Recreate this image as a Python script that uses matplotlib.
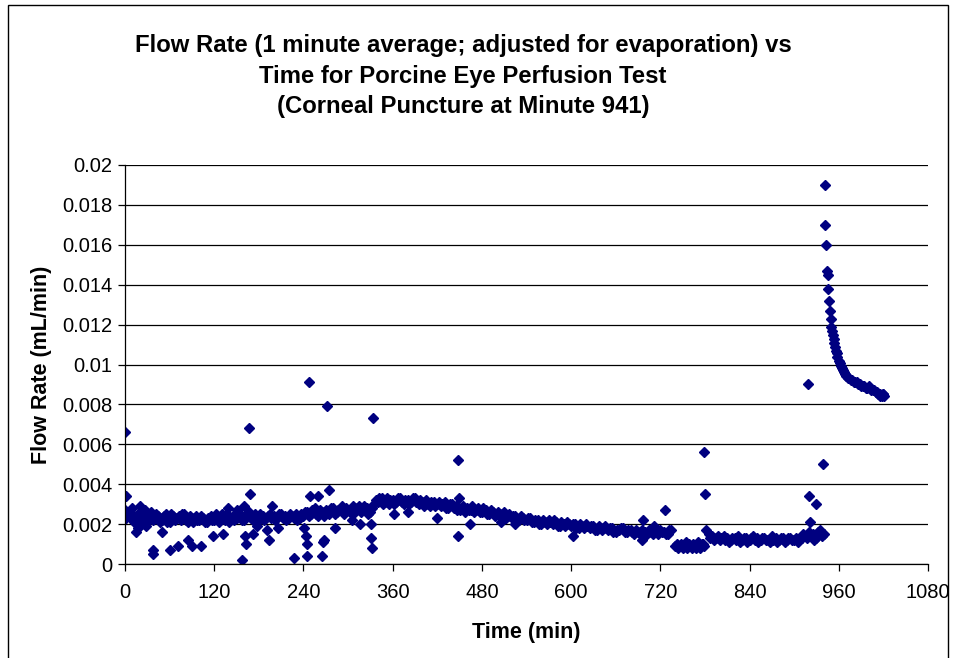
import matplotlib
matplotlib.use("Agg")
import matplotlib.pyplot as plt
from matplotlib.patches import Rectangle

# main band (min, mL/min)
t_band = [0, 5, 10, 15, 20, 25, 30, 35, 40, 45,
          50, 55, 60, 65, 70, 75, 80, 85, 90, 95,
          100, 105, 110, 115, 120, 125, 130, 135, 140, 145,
          150, 155, 160, 165, 170, 175, 180, 185, 190, 195,
          200, 205, 210, 215, 220, 225, 230, 235, 240, 245,
          250, 255, 260, 265, 270, 275, 280, 285, 290, 295,
          300, 305, 310, 315, 320, 325, 330, 335, 340, 345,
          350, 355, 360, 365, 370, 375, 380, 385, 390, 395,
          400, 405, 410, 415, 420, 425, 430, 435, 440, 445,
          450, 455, 460, 465, 470, 475, 480, 485, 490, 495,
          500, 505, 510, 515, 520, 525, 530, 535, 540, 545,
          550, 555, 560, 565, 570, 575, 580, 585, 590, 595,
          600, 605, 610, 615, 620, 625, 630, 635, 640, 645,
          650, 655, 660, 665, 670, 675, 680, 685, 690, 695,
          700, 705, 710, 715, 720, 725, 730, 735]
q_band = [0.0027, 0.0024, 0.0028, 0.0022, 0.0029, 0.0025, 0.0021, 0.0026, 0.0023, 0.0024,
          0.0022, 0.0025, 0.0021, 0.0024, 0.0023, 0.0022, 0.0025, 0.0021, 0.0023, 0.0024,
          0.0022, 0.0023, 0.0021, 0.0024, 0.0022, 0.0023, 0.0025, 0.0022, 0.0021, 0.0024,
          0.0023, 0.0025, 0.0022, 0.0024, 0.0023, 0.0025, 0.0022, 0.0024, 0.0023, 0.0025,
          0.0024, 0.0023, 0.0025, 0.0024, 0.0023, 0.0024, 0.0025, 0.0023, 0.0024, 0.0026,
          0.0025, 0.0028, 0.0024, 0.0026, 0.0027, 0.0025, 0.0028, 0.0026, 0.0027, 0.0025,
          0.0027, 0.0028, 0.0026, 0.0029, 0.0027, 0.0028, 0.0026, 0.0030, 0.0031, 0.0033,
          0.0031, 0.0030, 0.0032, 0.0031, 0.0033, 0.0030, 0.0032, 0.0031, 0.0033, 0.0030,
          0.0031, 0.0032, 0.0029, 0.0031, 0.0030, 0.0029, 0.0031, 0.0028, 0.0030, 0.0029,
          0.0027, 0.0029, 0.0028, 0.0027, 0.0026, 0.0028, 0.0026, 0.0027, 0.0025, 0.0026,
          0.0025, 0.0024, 0.0026, 0.0024, 0.0023, 0.0024, 0.0022, 0.0023, 0.0022, 0.0023,
          0.0021, 0.0022, 0.0020, 0.0021, 0.0022, 0.0020, 0.0021, 0.0019, 0.0020, 0.0021,
          0.0019, 0.0020, 0.0018, 0.0019, 0.0020, 0.0018, 0.0019, 0.0017, 0.0018, 0.0019,
          0.0017, 0.0018, 0.0016, 0.0017, 0.0018, 0.0016, 0.0017, 0.0015, 0.0016, 0.0017,
          0.0016, 0.0017, 0.0015, 0.0016, 0.0017, 0.0016, 0.0015, 0.0017]

# in-between minutes of the same band
t_band2 = [2, 7, 12, 17, 22, 27, 32, 37, 42, 47,
           52, 57, 62, 67, 72, 77, 82, 87, 92, 97,
           102, 107, 112, 117, 122, 127, 132, 137, 142, 147,
           152, 157, 162, 167, 172, 177, 182, 187, 192, 197,
           202, 207, 212, 217, 222, 227, 232, 237, 242, 247,
           252, 257, 262, 267, 272, 277, 282, 287, 292, 297,
           302, 307, 312, 317, 322, 327, 332, 337, 342, 347,
           352, 357, 362, 367, 372, 377, 382, 387, 392, 397,
           402, 407, 412, 417, 422, 427, 432, 437, 442, 447,
           452, 457, 462, 467, 472, 477, 482, 487, 492, 497,
           502, 507, 512, 517, 522, 527, 532, 537, 542, 547,
           552, 557, 562, 567, 572, 577, 582, 587, 592, 597,
           602, 607, 612, 617, 622, 627, 632, 637, 642, 647,
           652, 657, 662, 667, 672, 677, 682, 687, 692, 697,
           702, 707, 712, 717, 722, 727, 732]
q_band2 = [0.0023, 0.0026, 0.0021, 0.0025, 0.0022, 0.0027, 0.0024, 0.0022, 0.0025, 0.0021,
           0.0024, 0.0021, 0.0025, 0.0022, 0.0024, 0.0025, 0.0022, 0.0024, 0.0021, 0.0022,
           0.0024, 0.0021, 0.0023, 0.0022, 0.0025, 0.0021, 0.0023, 0.0025, 0.0023, 0.0022,
           0.0025, 0.0022, 0.0024, 0.0026, 0.0022, 0.0023, 0.0025, 0.0022, 0.0024, 0.0023,
           0.0022, 0.0025, 0.0023, 0.0022, 0.0025, 0.0023, 0.0022, 0.0025, 0.0026, 0.0024,
           0.0027, 0.0025, 0.0027, 0.0024, 0.0026, 0.0028, 0.0025, 0.0027, 0.0029, 0.0028,
           0.0026, 0.0029, 0.0028, 0.0026, 0.0029, 0.0025, 0.0028, 0.0032, 0.0033, 0.0030,
           0.0033, 0.0032, 0.0030, 0.0033, 0.0031, 0.0032, 0.0030, 0.0033, 0.0031, 0.0032,
           0.0029, 0.0030, 0.0031, 0.0029, 0.0031, 0.0030, 0.0028, 0.0030, 0.0028, 0.0027,
           0.0028, 0.0026, 0.0027, 0.0029, 0.0027, 0.0026, 0.0028, 0.0025, 0.0027, 0.0024,
           0.0026, 0.0025, 0.0023, 0.0025, 0.0024, 0.0022, 0.0024, 0.0022, 0.0023, 0.0021,
           0.0022, 0.0020, 0.0022, 0.0020, 0.0021, 0.0022, 0.0019, 0.0021, 0.0019, 0.0020,
           0.0020, 0.0018, 0.0020, 0.0018, 0.0019, 0.0019, 0.0017, 0.0019, 0.0017, 0.0018,
           0.0018, 0.0016, 0.0017, 0.0018, 0.0016, 0.0017, 0.0016, 0.0017, 0.0015, 0.0016,
           0.0015, 0.0016, 0.0017, 0.0015, 0.0016, 0.0015, 0.0017]

# low step before the jump at ~780 min
t_step = [740, 742, 744, 746, 748, 750, 752, 754, 756, 758, 760,
          762, 764, 766, 768, 770, 772, 774, 776, 778, 779]
q_step = [0.0009, 0.0010, 0.0008, 0.0009, 0.0010, 0.0008, 0.0009, 0.0011, 0.0008, 0.0010, 0.0009,
          0.0008, 0.0010, 0.0009, 0.0008, 0.0011, 0.0009, 0.0008, 0.0010, 0.0010, 0.0009]

# band after the jump, up to the puncture
t_late = [785, 787, 790, 792, 795, 797, 800, 802, 805, 807,
          810, 812, 815, 817, 820, 822, 825, 827, 830, 832,
          835, 837, 840, 842, 845, 847, 850, 852, 855, 857,
          860, 862, 865, 867, 870, 872, 875, 877, 880, 882,
          885, 887, 890, 892, 895, 897, 900, 902, 905, 907,
          910, 912, 915, 917, 920, 922, 925, 927, 930, 932,
          935, 937, 940]
q_late = [0.0015, 0.0013, 0.0014, 0.0012, 0.0013, 0.0014, 0.0012, 0.0013, 0.0014, 0.0012,
          0.0013, 0.0011, 0.0012, 0.0013, 0.0013, 0.0012, 0.0014, 0.0011, 0.0012, 0.0013,
          0.0013, 0.0011, 0.0012, 0.0013, 0.0014, 0.0012, 0.0013, 0.0011, 0.0012, 0.0013,
          0.0013, 0.0012, 0.0012, 0.0011, 0.0014, 0.0012, 0.0013, 0.0011, 0.0012, 0.0013,
          0.0013, 0.0011, 0.0012, 0.0013, 0.0013, 0.0012, 0.0012, 0.0013, 0.0011, 0.0012,
          0.0013, 0.0015, 0.0014, 0.0013, 0.0016, 0.0014, 0.0015, 0.0012, 0.0013, 0.0016,
          0.0017, 0.0014, 0.0015]

# corneal puncture spike and decay
t_spike = [941, 942, 943, 944, 945, 946, 947, 948, 949, 950,
           951, 952, 953, 954, 955, 956, 957, 958, 960, 961,
           963, 964, 966, 967, 969, 970, 972, 974, 976, 978,
           980, 982, 984, 986, 988, 990, 992, 994, 996, 998,
           1000, 1002, 1004, 1006, 1008, 1010, 1012, 1013, 1015, 1016,
           1018, 1019, 1020, 1021]
q_spike = [0.0190, 0.0170, 0.0160, 0.0147, 0.0145, 0.0138, 0.0132, 0.0127, 0.0123, 0.0119,
           0.0117, 0.0115, 0.0113, 0.0111, 0.0109, 0.0107, 0.0106, 0.0104, 0.0102, 0.0101,
           0.0099, 0.0098, 0.0097, 0.0096, 0.0095, 0.0094, 0.0093, 0.0093, 0.0092, 0.0092,
           0.0091, 0.0091, 0.0091, 0.0090, 0.0090, 0.0089, 0.0089, 0.0089, 0.0088, 0.0088,
           0.0089, 0.0088, 0.0087, 0.0087, 0.0087, 0.0086, 0.0086, 0.0085, 0.0085, 0.0084,
           0.0084, 0.0085, 0.0085, 0.0084]

# scattered points off the band
t_out = [0, 1, 15, 17, 28, 37, 38, 50, 60, 71, 85, 90, 102, 118,
         132, 139, 151, 157, 160, 161, 163, 167, 168, 172, 177, 191, 194, 198, 206,
         227, 241, 244, 244.5, 245, 248, 248.5, 259, 265, 266.7, 268, 272, 274, 282,
         305, 316, 331, 331.5, 332, 333, 362, 381, 420, 448, 449, 447.5, 464, 506, 524,
         603, 696, 697, 712, 726, 779, 780, 781, 919, 920, 921, 929, 939]
q_out = [0.0066, 0.0034, 0.0016, 0.0018, 0.0019, 0.0007, 0.0005, 0.0016, 0.0007, 0.0009,
         0.0012, 0.0009, 0.0009, 0.0014,
         0.0015, 0.0028, 0.0027, 0.0002, 0.0029, 0.0014, 0.0010, 0.0068, 0.0035, 0.0015,
         0.0019, 0.0017, 0.0012, 0.0029, 0.0018,
         0.0003, 0.0018, 0.0014, 0.0010, 0.0004, 0.0091, 0.0034, 0.0034, 0.0004, 0.0011,
         0.0012, 0.0079, 0.0037, 0.0018,
         0.0022, 0.0020, 0.0020, 0.0013, 0.0008, 0.0073, 0.0025, 0.0026, 0.0023, 0.0052,
         0.0033, 0.0014, 0.0020, 0.0021, 0.0020,
         0.0014, 0.0012, 0.0022, 0.0019, 0.0027, 0.0056, 0.0035, 0.0017, 0.0090, 0.0034,
         0.0021, 0.0030, 0.0050]

plt.rcParams['font.family'] = ['Liberation Sans', 'DejaVu Sans']

fig = plt.figure(figsize=(9.55, 6.58), dpi=100)
ax = fig.add_axes([125 / 955, 1 - 564 / 658, 803 / 955, 399 / 658])

navy = '#000080'
for t, q in [(t_band, q_band), (t_band2, q_band2), (t_step, q_step),
             (t_late, q_late), (t_spike, q_spike), (t_out, q_out)]:
    ax.plot(t, q, linestyle='none', marker='D', ms=4.8, color=navy, mec=navy)

ax.set_xlim(0, 1080)
ax.set_ylim(0, 0.02)
ax.set_xticks(range(0, 1081, 120))
ax.set_yticks([i * 0.002 for i in range(11)])
ax.set_yticklabels(['0', '0.002', '0.004', '0.006', '0.008', '0.01',
                    '0.012', '0.014', '0.016', '0.018', '0.02'])
ax.yaxis.grid(True, color='black', lw=0.9)
ax.set_axisbelow(True)
ax.tick_params(labelsize=14.5, direction='out', length=5, width=0.9, colors='black')
ax.tick_params(axis='x', pad=9)
ax.tick_params(axis='y', pad=4)
for s in ['top', 'right']:
    ax.spines[s].set_visible(False)
for s in ['left', 'bottom']:
    ax.spines[s].set_color('black')
    ax.spines[s].set_linewidth(0.9)

ax.set_xlabel('Time (min)', fontsize=15.5, fontweight='bold', labelpad=14)
ax.set_ylabel('Flow Rate (mL/min)', fontsize=15.5, fontweight='bold', labelpad=7.5)

fig.text(463 / 955, 1 - 76 / 658,
         'Flow Rate (1 minute average; adjusted for evaporation) vs\n'
         'Time for Porcine Eye Perfusion Test\n'
         '(Corneal Puncture at Minute 941)',
         ha='center', va='center', fontsize=17.2, fontweight='bold', linespacing=1.42)

# chart area border (cut off at the bottom)
fig.patches.append(Rectangle((8 / 955, -0.05), 940 / 955, 1.05 - 5 / 658,
                             transform=fig.transFigure, fill=False,
                             edgecolor='black', lw=1))

fig.savefig('out.png', dpi=100)
